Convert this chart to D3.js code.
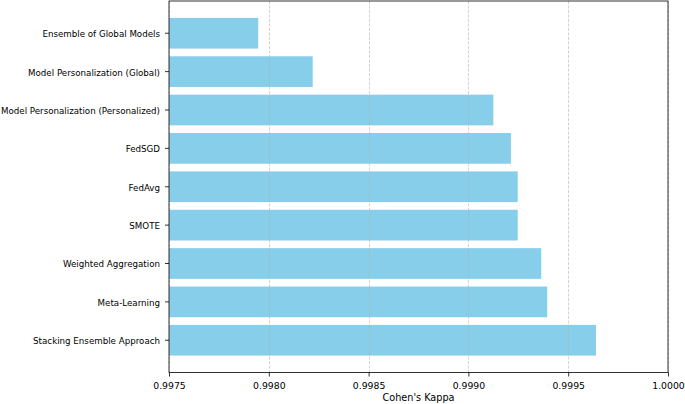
<!DOCTYPE html>
<html><head><meta charset="utf-8">
<script src="https://cdn.jsdelivr.net/npm/d3@7"></script>
<style>body{margin:0;background:#fff}svg{display:block}text{font-family:"DejaVu Sans",sans-serif}</style>
</head><body>
<svg id="c" width="685" height="404"></svg>
<script>
const categories = ["Ensemble of Global Models","Model Personalization (Global)","Model Personalization (Personalized)","FedSGD","FedAvg","SMOTE","Weighted Aggregation","Meta-Learning","Stacking Ensemble Approach"];
const values = [0.997947,0.998220,0.999125,0.999213,0.999247,0.999247,0.999365,0.999395,0.999639];
const xTicks = [0.9975,0.9980,0.9985,0.9990,0.9995,1.0000];
const xDomain = [0.9975,1.0000];
const xLabel = "Cohen's Kappa";

const svg = d3.select("#c");
const L=169, R=668, T=1, B=372.5;
const x = d3.scaleLinear().domain(xDomain).range([L,R]);
const y = d3.scaleBand().domain(categories).range([T,B]).paddingInner(0.2).paddingOuter(0.44);

svg.append("g").selectAll("rect").data(categories).join("rect")
  .attr("x", x(xDomain[0])).attr("y", d=>y(d))
  .attr("width", (d,i)=>x(values[i])-x(xDomain[0])).attr("height", y.bandwidth())
  .attr("fill","#87CEEB");

svg.append("g").selectAll("line").data(xTicks).join("line")
  .attr("x1",d=>Math.round(x(d))+0.5).attr("x2",d=>Math.round(x(d))+0.5)
  .attr("y1",T).attr("y2",B)
  .attr("stroke","#b0b0b0").attr("stroke-opacity",0.7).attr("stroke-width",0.8).attr("stroke-dasharray","3,1.5");

const xa = svg.append("g").attr("transform",`translate(0,${B})`)
  .call(d3.axisBottom(x).tickValues(xTicks).tickFormat(d3.format(".4f")).tickSize(4).tickPadding(5.5));
const ya = svg.append("g").attr("transform",`translate(${L},0)`)
  .call(d3.axisLeft(y).tickSize(4).tickPadding(5));
[xa,ya].forEach(a=>{a.select(".domain").remove();a.selectAll("text").attr("fill","#000").style("font-family","DejaVu Sans");a.selectAll("line").attr("stroke","#000").attr("stroke-width",0.8);});
xa.selectAll("text").attr("font-size",9.3);
ya.selectAll("text").attr("font-size",8.7).attr("dy","0.45em");

svg.append("rect").attr("x",L).attr("y",T).attr("width",R-L).attr("height",B-T)
  .attr("fill","none").attr("stroke","#000").attr("stroke-width",0.8);

svg.append("text").attr("x",(L+R)/2).attr("y",400.5).attr("text-anchor","middle")
  .attr("font-size",9.7).text(xLabel);
</script>
</body></html>
